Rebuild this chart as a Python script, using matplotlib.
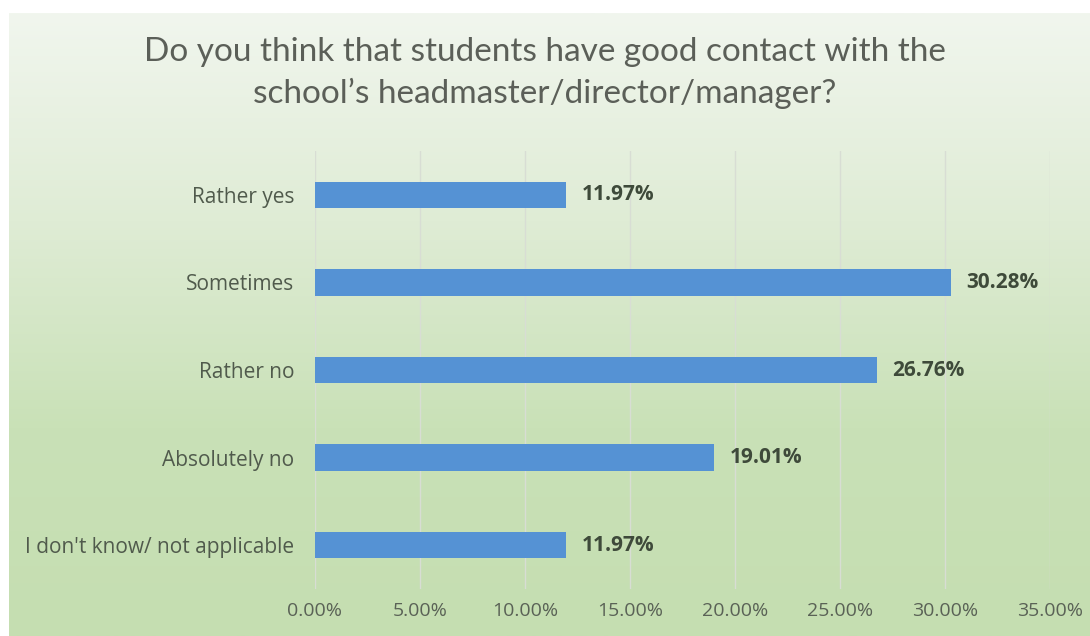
import matplotlib.pyplot as plt
import numpy as np
from matplotlib.colors import LinearSegmentedColormap

categories = ["Rather yes", "Sometimes", "Rather no", "Absolutely no",
              "I don't know/ not applicable"]
values = [11.97, 30.28, 26.76, 19.01, 11.97]
xticks = [0, 5, 10, 15, 20, 25, 30, 35]
title = ("Do you think that students have good contact with the\n"
         "school\u2019s headmaster/director/manager?")

W, H = 1090, 636
fig = plt.figure(figsize=(W / 100, H / 100), dpi=100, facecolor="white")

# gradient background (white strip on top and left)
bg = fig.add_axes([9 / W, 0, 1 - 9 / W, (H - 13) / H], zorder=-10)
cmap = LinearSegmentedColormap.from_list(
    "bg", ["#f1f6ee", "#dfecd5", "#c9e1b7", "#c5deb1"])
grad = np.linspace(0, 1, 256).reshape(-1, 1)
bg.imshow(grad, aspect="auto", cmap=cmap, extent=[0, 1, 0, 1], origin="upper")
bg.axis("off")

ax = fig.add_axes([315 / W, 47 / H, (1050 - 315) / W, (589 - 151) / H])
ax.set_facecolor("none")

y = np.arange(len(categories))
ax.barh(y, values, height=0.3, color="#5592d4", zorder=3)
ax.set_ylim(len(categories) - 0.5, -0.5)
ax.set_xlim(0, 35)

ax.set_yticks(y)
ax.set_yticklabels(categories, fontsize=15, color="#505a4c", family="Open Sans")
ax.set_xticks(xticks)
ax.set_xticklabels([f"{t:.2f}%" for t in xticks], fontsize=14,
                   color="#5a6256", family="Open Sans")
ax.tick_params(axis="both", length=0)
ax.tick_params(axis="y", pad=15)
ax.tick_params(axis="x", pad=9)

ax.grid(axis="x", color="#d8ddd4", linewidth=1, zorder=0)
for s in ax.spines.values():
    s.set_visible(False)

for yi, v in zip(y, values):
    ax.annotate(f"{v:.2f}%", (v, yi), xytext=(11, 0), textcoords="offset points",
                va="center", ha="left", fontsize=15, fontweight="bold",
                color="#3e4a3a", family="Open Sans")

fig.text(545 / W, 1 - 73 / H, title, ha="center", va="center",
         fontsize=24, color="#5b5f58", family="Lato", linespacing=1.45)

fig.savefig("out.png", dpi=100)
